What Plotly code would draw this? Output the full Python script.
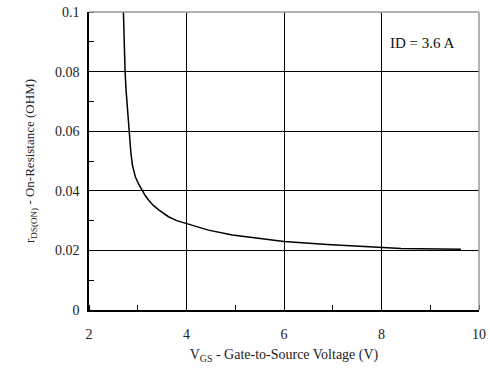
import plotly.graph_objects as go

vgs = [2.706, 2.72, 2.74, 2.76, 2.79, 2.83, 2.86, 2.89, 2.95, 3.02, 3.08, 3.15,
       3.22, 3.32, 3.43, 3.63, 3.80, 4.01, 4.45, 4.94, 5.5, 6.0, 6.89, 7.71,
       8.40, 9.63]
rds = [0.1, 0.09, 0.08, 0.0738, 0.0665, 0.0576, 0.0526, 0.0487, 0.0447, 0.0422,
       0.0403, 0.0385, 0.0369, 0.0351, 0.0336, 0.0313, 0.0300, 0.0289, 0.0268,
       0.0252, 0.0240, 0.0230, 0.0220, 0.0212, 0.0206, 0.0204]
x_ticks = [2, 4, 6, 8, 10]
y_ticks = [0, 0.02, 0.04, 0.06, 0.08, 0.1]
y_tick_text = ["0", "0.02", "0.04", "0.06", "0.08", "0.1"]
note = "ID = 3.6 A"

font = "Liberation Serif, Times New Roman, serif"

fig = go.Figure()
fig.add_trace(go.Scatter(x=vgs, y=rds, mode="lines",
                         line=dict(color="black", width=1.5),
                         hoverinfo="skip", showlegend=False))

fig.update_layout(
    width=490, height=372,
    margin=dict(l=89, r=11, t=12, b=62),
    paper_bgcolor="white", plot_bgcolor="white",
    font=dict(family=font, size=14, color="#222"),
    xaxis=dict(range=[2, 10], tickvals=x_ticks, ticktext=[str(v) for v in x_ticks],
               automargin=False, ticklabelstandoff=10,
               showgrid=True, gridcolor="black", gridwidth=1,
               showline=True, linecolor="black", linewidth=1.5,
               ticks="", zeroline=False,
               minor=dict(dtick=1, tick0=0, ticks="inside", ticklen=5,
                          tickcolor="black", showgrid=False),
               title=dict(text="V<sub>GS</sub> - Gate-to-Source Voltage (V)",
                          font=dict(size=14, color="#222"), standoff=9),
               tickfont=dict(size=14)),
    yaxis=dict(range=[0, 0.1], tickvals=y_ticks, ticktext=y_tick_text,
               automargin=False, ticklabelstandoff=5,
               showgrid=True, gridcolor="black", gridwidth=1,
               showline=True, linecolor="black", linewidth=1.5,
               ticks="", zeroline=False,
               minor=dict(dtick=0.01, tick0=0, ticks="inside", ticklen=5,
                          tickcolor="black", showgrid=False),
               title=dict(text="r<sub>DS(ON)</sub> - On-Resistance (OHM)",
                          font=dict(size=13, color="#222"), standoff=17),
               tickfont=dict(size=14)),
    shapes=[
        dict(type="line", xref="paper", yref="paper", x0=0, x1=1, y0=1, y1=1,
             line=dict(color="#999", width=1.5), layer="above"),
        dict(type="line", xref="paper", yref="paper", x0=1, x1=1, y0=0, y1=1,
             line=dict(color="#999", width=1.5), layer="above"),
    ],
    annotations=[dict(text=note, x=8.83, y=0.0896, xref="x", yref="y",
                      showarrow=False, font=dict(size=15, color="#111"),
                      xanchor="center", yanchor="middle")],
)

fig.write_html("out.html", config={"displayModeBar": False},
               post_script="document.body.style.margin='0';document.body.style.padding='0';")
